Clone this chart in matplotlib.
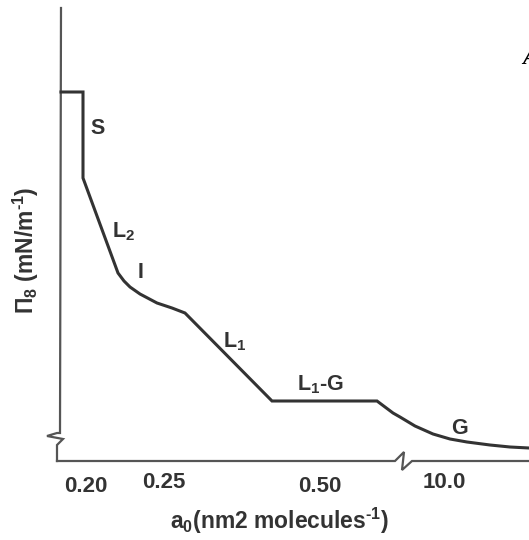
import numpy as np
import matplotlib
matplotlib.use('Agg')
import matplotlib.pyplot as plt

plt.rcParams['font.family'] = ['Liberation Sans', 'DejaVu Sans']
plt.rcParams['mathtext.default'] = 'regular'

# isotherm (schematic units: x = scaled area, y = pressure)
area = [61, 83, 83, 118, 124, 130, 140, 157, 172, 185, 272, 377, 385, 393, 400,
        415, 433, 450, 467, 490, 510, 529]
pressure = [448, 448, 362, 267, 259, 253, 246, 237, 232, 227, 139, 139, 133, 127, 123,
            114, 106, 101, 98, 95, 93, 92]

# broken axes (left and bottom) with their zigzag breaks
yaxis_x = [61, 60, 57, 47, 63, 57, 57]
yaxis_y = [532, 107, 107, 104, 101, 95, 79]
xaxis_x = [57, 395, 404, 402, 412, 529]
xaxis_y = [79, 79, 88, 70, 79, 79]

phases = ['S', 'L$_2$', 'I', 'L$_1$', 'L$_1$-G', 'G']
phase_x = [98, 124, 141, 235, 320, 459]
phase_y = [412, 308, 268, 198, 155, 112]

tick_labels = ['0.20', '0.25', '0.50', '10.0']
tick_x = [86, 164, 320, 444]
tick_y = [53, 58, 53, 58]

fig = plt.figure(figsize=(5.29, 5.40), dpi=100)
ax = fig.add_axes([0, 0, 1, 1])
ax.set_xlim(0, 529)
ax.set_ylim(0, 540)
ax.axis('off')

ax.plot(yaxis_x, yaxis_y, color='#555555', lw=1.6, solid_joinstyle='miter')
ax.plot(xaxis_x, xaxis_y, color='#555555', lw=1.6, solid_joinstyle='miter')
ax.plot(area, pressure, color='#333333', lw=2.2, solid_joinstyle='miter')

for lab, x, y in zip(phases, phase_x, phase_y):
    ax.text(x, y, lab, fontsize=15.5, fontweight='bold', color='#333333',
            ha='center', va='center')

for lab, x, y in zip(tick_labels, tick_x, tick_y):
    ax.text(x, y, lab, fontsize=16, fontweight='bold', color='#333333',
            ha='center', va='center')

ax.text(280, 19, 'a$_0$(nm2 molecules$^{\u2010 1}$)', fontsize=16.5, fontweight='bold',
        color='#333333', ha='center', va='center')
ax.text(26, 290, '\u03a0$_8$ (mN/m$^{\u2010 1}$)', fontsize=16.5, fontweight='bold',
        color='#333333', ha='center', va='center', rotation=90)

# clipped panel letter at the right edge
ax.text(522, 482, 'A', fontsize=17, fontstyle='italic', fontweight='bold',
        family='Liberation Serif', color='black', ha='left', va='center')

fig.savefig('out.png', dpi=100)
